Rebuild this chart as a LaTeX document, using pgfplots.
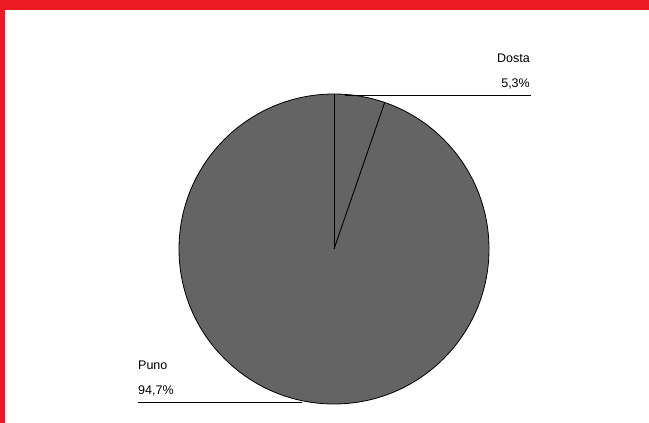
\documentclass[border=0pt]{standalone}
\usepackage{pgfplots}
\pgfplotsset{compat=1.18}
\usepackage{pgfplotstable}
\usepackage{fontspec}
\setmainfont{Liberation Sans}
\definecolor{framered}{RGB}{237,28,36}
\definecolor{piegray}{RGB}{100,100,100}

\pgfplotstableread{
label value
Dosta 5.3
Puno 94.7
}\piedata

\begin{document}
\begin{tikzpicture}
\begin{axis}[width=649bp, height=423bp, scale only axis,
  xmin=0, xmax=649, ymin=0, ymax=423, hide axis, clip=false]
\fill[white] (axis cs:0,0) rectangle (axis cs:649,423);
\fill[framered] (axis cs:0,413) rectangle (axis cs:649,423);
\fill[framered] (axis cs:0,0) rectangle (axis cs:5,423);
\pgfplotstablegetelem{0}{value}\of\piedata
\pgfmathsetmacro\angA{90-3.6*\pgfplotsretval}
\filldraw[fill=piegray, draw=black, line width=0.8bp] (axis cs:334,174) circle[radius=155bp];
\draw[black, line width=0.9bp] (axis cs:334,174) -- (axis cs:334,329);
\draw[black, line width=0.9bp] (axis cs:334,174) -- ++(\angA:155bp);
% leader lines
\draw[black, line width=0.9bp] (axis cs:345,328) -- (axis cs:531,328);
\draw[black, line width=0.9bp] (axis cs:138,21) -- (axis cs:302,21);
% labels
\pgfplotstablegetelem{0}{label}\of\piedata \let\labA\pgfplotsretval
\pgfplotstablegetelem{1}{label}\of\piedata \let\labB\pgfplotsretval
\pgfplotstablegetelem{1}{value}\of\piedata \let\valB\pgfplotsretval
\node[anchor=east, inner sep=0pt, font=\fontsize{12.5bp}{15bp}\selectfont] at (axis cs:530,365) {\labA};
\node[anchor=east, inner sep=0pt, font=\fontsize{12.5bp}{15bp}\selectfont] at (axis cs:530,339) {5,3\%};
\node[anchor=west, inner sep=0pt, font=\fontsize{12.5bp}{15bp}\selectfont] at (axis cs:138,58) {\labB};
\node[anchor=west, inner sep=0pt, font=\fontsize{12.5bp}{15bp}\selectfont] at (axis cs:138,32) {94,7\%};
\end{axis}
\end{tikzpicture}
\end{document}
